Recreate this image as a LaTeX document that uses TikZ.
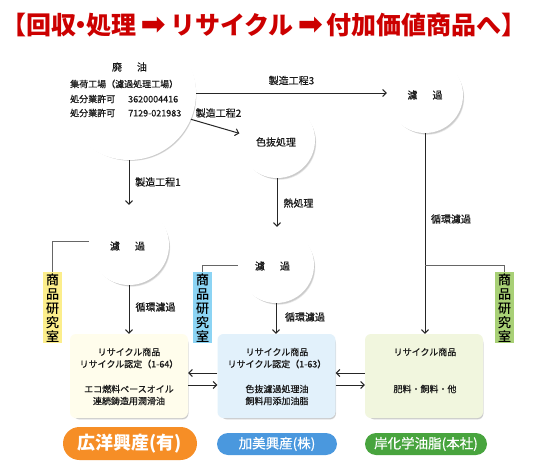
\documentclass[tikz,border=0pt]{standalone}
\usepackage{fontspec}
\setmainfont{Noto Sans CJK JP}
\newfontfamily\medcjk{Noto Sans CJK JP}[FakeBold=0.5]
\newfontfamily\dejavu{DejaVu Sans}
\usetikzlibrary{shadows,arrows.meta,shapes.misc}
\definecolor{titlered}{RGB}{204,0,0}
\definecolor{creamC}{RGB}{255,253,236}
\definecolor{skyC}{RGB}{226,241,251}
\definecolor{leafC}{RGB}{241,246,222}
\definecolor{labY}{RGB}{252,238,140}
\definecolor{labB}{RGB}{140,212,244}
\definecolor{labG}{RGB}{168,208,118}
\definecolor{orangeC}{RGB}{246,142,38}
\definecolor{blueC}{RGB}{74,152,222}
\definecolor{greenC}{RGB}{72,164,62}
\tikzset{
  softshadow/.style={
    drop shadow={shadow xshift=2.4pt, shadow yshift=-3pt, shadow scale=0.97, opacity=0.09, fill=black},
    drop shadow={shadow xshift=1.6pt, shadow yshift=-2pt, shadow scale=0.98, opacity=0.12, fill=black}},
  bubble/.style={circle, fill=white, inner sep=0pt, softshadow},
  card/.style={rectangle, rounded corners=6pt, inner sep=0pt,
    minimum width=118pt, minimum height=84pt, softshadow},
  conn/.style={draw=black!85, line width=1pt, -{Straight Barb[length=3.5pt,width=7pt]}},
  tie/.style={draw=black!60, line width=0.8pt},
  lbl/.style={inner sep=0pt, font=\medcjk\fontsize{10}{12}\selectfont, text=black!90},
  small/.style={inner sep=0pt, font=\medcjk\fontsize{9}{11}\selectfont, text=black!90},
  labbox/.style={rectangle, inner sep=0pt, minimum width=19pt, minimum height=71pt,
    align=center, font=\medcjk\fontsize{13}{14.2}\selectfont, anchor=north},
  pill/.style={rounded rectangle, inner sep=0pt, text=white},
}
\begin{document}
\begin{tikzpicture}[x=1pt,y=-1pt]
\useasboundingbox (0,0) rectangle (550,466);
\fill[white] (0,0) rectangle (550,466);

% circles
\node[bubble, minimum size=134pt] (big) at (129,93) {};
\node[bubble, minimum size=76pt] (filtR) at (425,95) {};
\node[bubble, minimum size=76pt] (colorC) at (277,140) {};
\node[bubble, minimum size=80pt] (filtL) at (129,245) {};
\node[bubble, minimum size=76pt] (filtM) at (276,265) {};

% title
\node[anchor=west, inner sep=0pt, text=titlered, font=\bfseries\fontsize{25}{27}\selectfont] (title) at (1,25)
  {【回収\makebox[10pt][c]{・}処理\makebox[34pt][c]{\dejavu\fontsize{30}{30}\selectfont ➡}リサイクル\makebox[33pt][c]{\dejavu\fontsize{30}{30}\selectfont ➡}付加価値商品へ】};

\node[lbl] (bigT) at (129.5,67) {廃\hspace{15pt}油};
\node[small, anchor=west] (bigA) at (70,84) {集荷工場（濾過処理工場）};
\node[small, anchor=west] (bigB) at (70,99) {処分業許可\hspace{13pt}3620004416};
\node[small, anchor=west] (bigC) at (70,113) {処分業許可\hspace{13pt}7129-021983};
\node[lbl] (filtRT) at (425,95) {濾\hspace{15pt}過};
\node[lbl] (colorT) at (276,142) {色抜処理};
\node[lbl] (filtLT) at (127.5,246) {濾\hspace{15pt}過};
\node[lbl] (filtMT) at (272.5,266) {濾\hspace{15pt}過};

% product boxes
\node[card, fill=creamC] (box1) at (129,376) {};
\node[card, fill=skyC] (box2) at (276.5,376) {};
\node[card, fill=leafC] (box3) at (424,376) {};

\node[small] (b1a) at (129,352) {リサイクル商品};
\node[small] (b1b) at (129,364) {リサイクル認定（1-64）};
\node[small] (b1c) at (129,389) {エコ燃料ベースオイル};
\node[small] (b1d) at (129,401) {連続鋳造用潤滑油};
\node[small] (b2a) at (277,352) {リサイクル商品};
\node[small] (b2b) at (277,364) {リサイクル認定（1-63）};
\node[small] (b2c) at (277,389) {色抜濾過処理油};
\node[small] (b2d) at (277,401) {飼料用添加油脂};
\node[small] (b3a) at (425,352) {リサイクル商品};
\node[small] (b3b) at (425,389) {肥料・飼料・他};

% lab labels
\node[labbox, fill=labY] (labL) at (52.5,272) {商\\品\\研\\究\\室};
\node[labbox, fill=labB] (labM) at (202.5,272) {商\\品\\研\\究\\室};
\node[labbox, fill=labG] (labR) at (504.5,272) {商\\品\\研\\究\\室};

% company pills
\node[pill, fill=orangeC, minimum width=134pt, minimum height=33pt,
  font=\bfseries\fontsize{18}{20}\selectfont] (co1) at (130,443.5) {広洋興産(有)};
\node[pill, fill=blueC, minimum width=120pt, minimum height=22pt,
  font=\medcjk\fontsize{13.5}{16}\selectfont] (co2) at (277,444) {加美興産(株)};
\node[pill, fill=greenC, minimum width=122pt, minimum height=22pt,
  font=\medcjk\fontsize{13.5}{16}\selectfont] (co3) at (426,444) {岸化学油脂(本社)};

% connectors
\draw[conn] (big.east) -- (filtR.west |- big.east);
\draw[conn] (big.-23) -- (colorC.170);
\draw[conn] (big.south) -- (filtL.north);
\draw[conn] (filtL.south) -- (filtL.south |- box1.north);
\draw[conn] (colorC.south) -- (colorC.south |- filtM.north);
\draw[conn] (filtM.south) -- (filtM.south |- box2.north);
\draw[conn] (filtR.south) -- (filtR.south |- box3.north);

\coordinate (kR) at (425,265);
\draw[tie] (kR) -- (kR -| labR.north) -- (labR.north);
\draw[tie] (filtL.175) -- (filtL.175 -| labL.north) -- (labL.north);
\draw[tie] (filtM.west) -- (filtM.west -| labM.north) -- (labM.north);

\draw[conn] ([yshift=3pt]box2.west) -- ([yshift=3pt]box1.east);
\draw[conn] ([yshift=-9pt]box1.east) -- ([yshift=-9pt]box2.west);
\draw[conn] ([yshift=3pt]box3.west) -- ([yshift=3pt]box2.east);
\draw[conn] ([yshift=-9pt]box2.east) -- ([yshift=-9pt]box3.west);

% connector labels
\node[lbl] (p3) at (291.5,80.5) {製造工程3};
\node[lbl] (p2) at (218.5,113) {製造工程2};
\node[lbl] (p1) at (158,182) {製造工程1};
\node[lbl] (heat) at (298.5,203) {熱処理};
\node[lbl] (cycL) at (155.5,307) {循環濾過};
\node[lbl] (cycM) at (305,317) {循環濾過};
\node[lbl] (cycR) at (451,219) {循環濾過};
\end{tikzpicture}
\end{document}
